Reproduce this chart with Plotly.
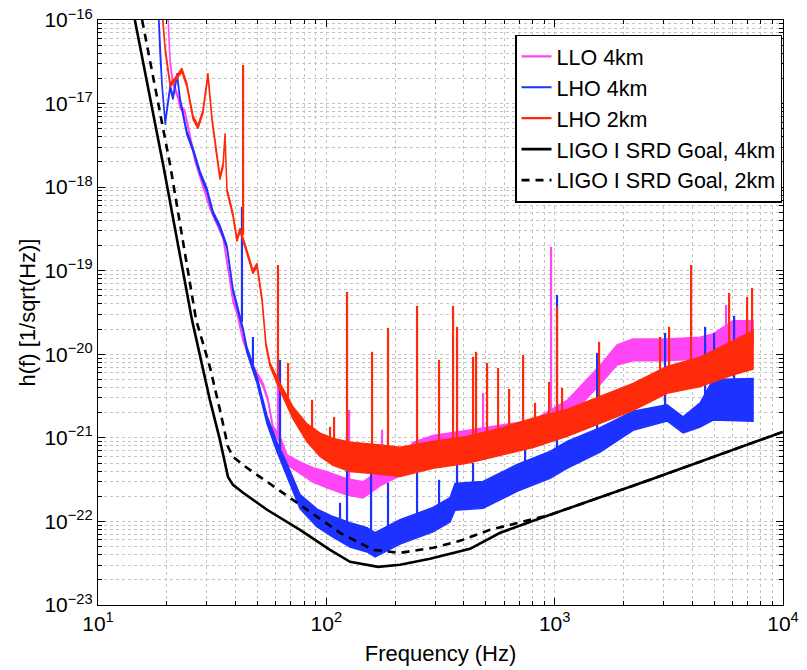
import plotly.graph_objects as go

# ---------------- data ----------------
# LLO 4km : median level of the noise band, its spread factor and the narrow lines
llo_freq = [19.9, 20.3, 20.7, 21.3, 22.4, 22.9, 24.0, 26.6, 30.9, 35.3,
            39.0, 40.6, 43.2, 47.7, 52.8, 55.5, 58.4, 62.7, 67.3, 76.7,
            87.4, 100.7, 123.2, 144.8, 171.9, 210.3, 239.8, 293.4, 413, 577,
            804, 1133, 1581, 1876, 2205, 3107, 4335, 4941, 6046, 7396]
llo_h = [1.73e-16, 1.0e-16, 3.06e-17, 1.76e-17, 1.20e-17, 9.10e-18, 7.94e-18, 2.11e-18, 5.80e-19, 2.54e-19,
         4.47e-20, 3.21e-20, 1.49e-20, 7.07e-21, 4.31e-21, 2.85e-21, 1.32e-21, 9.46e-22, 5.46e-22, 4.38e-22,
         3.61e-22, 3.15e-22, 2.59e-22, 2.39e-22, 3.32e-22, 4.38e-22, 6.80e-22, 8.25e-22, 9.46e-22, 1.09e-21,
         1.25e-21, 2.16e-21, 5.67e-21, 9.84e-21, 1.13e-20, 1.13e-20, 1.19e-20, 1.30e-20, 1.80e-20, 1.80e-20]
llo_spread = [1.05] * 17 + [1.1, 1.15, 1.18, 1.22, 1.25, 1.25, 1.25, 1.25, 1.25, 1.3,
                            1.3, 1.3, 1.3, 1.3, 1.3, 1.3, 1.32, 1.35, 1.35, 1.35,
                            1.35, 1.4, 1.4]
llo_line_freq = [61.4, 125.8, 175.4, 485.8, 964.2, 5633]
llo_line_base = [1.03e-21, 2.59e-22, 3.41e-22, 1.0e-21, 1.64e-21, 1.57e-20]
llo_line_peak = [8.57e-21, 2.16e-21, 1.25e-21, 3.45e-21, 1.93e-19, 3.90e-20]

# LHO 4km
lho4_freq = [18.3, 18.7, 19.1, 19.7, 20.7, 21.3, 22.2, 22.9, 24.5, 26.1,
             28.0, 30.0, 31.9, 34.2, 36.7, 39.0, 41.0, 43.2, 44.9, 49.7,
             55.0, 60.8, 67.3, 76.7, 91.1, 107, 127, 150.8, 163.5, 210.3,
             293.4, 348.3, 366.2, 485.8, 684.6, 954.5, 1133, 1581, 2205, 3107,
             3651, 4335, 4941, 7396]
lho4_h = [1.73e-16, 4.03e-17, 1.58e-17, 5.86e-18, 1.58e-17, 1.17e-17, 2.20e-17, 1.10e-17, 4.45e-18, 2.79e-18,
          1.48e-18, 9.26e-19, 4.91e-19, 3.34e-19, 1.93e-19, 5.89e-20, 3.40e-20, 1.96e-20, 1.13e-20, 4.94e-21,
          1.64e-21, 7.80e-22, 4.14e-22, 1.72e-22, 1.10e-22, 8.61e-23, 6.92e-23, 6.03e-23, 5.25e-23, 7.51e-23,
          1.05e-22, 1.38e-22, 1.97e-22, 2.08e-22, 3.32e-22, 4.75e-22, 6.26e-22, 9.46e-22, 1.60e-21, 1.99e-21,
          1.43e-21, 1.88e-21, 2.85e-21, 2.85e-21]
lho4_spread = [1.05] * 18 + [1.08, 1.1, 1.12, 1.14, 1.18, 1.22, 1.28, 1.33, 1.4, 1.4,
                             1.4, 1.4, 1.4, 1.4, 1.45, 1.45, 1.45, 1.45, 1.45, 1.4,
                             1.3, 1.25, 1.25, 1.4, 1.75, 1.8]
lho4_line_freq = [42.7, 47.7, 62.7, 114.8, 123.2, 157.0, 186.3, 249.6, 311.6, 373.6,
                  439.1, 742.1, 1024, 1534, 3045, 4559, 4991, 6108]
lho4_line_base = [2.44e-20, 6.51e-21, 6.80e-22, 7.93e-23, 7.31e-23, 5.55e-23, 6.37e-23, 9.10e-23, 1.14e-22, 1.97e-22,
                  2.02e-22, 3.61e-22, 5.46e-22, 8.95e-22, 1.94e-21, 2.16e-21, 2.85e-21, 2.85e-21]
lho4_line_peak = [5.80e-19, 1.61e-20, 8.57e-21, 1.67e-22, 1.15e-21, 4.14e-22, 2.90e-22, 3.81e-22, 3.15e-22, 5.93e-22,
                  5.02e-22, 8.71e-22, 5.13e-20, 1.04e-20, 1.80e-20, 2.13e-20, 1.80e-20, 2.88e-20]

# LHO 2km
lho2_freq = [18.9, 19.7, 20.7, 21.7, 23.3, 24.5, 26.1, 27.4, 28.8, 30.3,
             31.6, 32.9, 34.2, 35.3, 36.0, 36.7, 39.0, 40.6, 41.9, 44.9,
             47.7, 49.7, 52.3, 54.4, 56.7, 62.7, 71.5, 82.3, 93.9, 107,
             127, 177.2, 210.3, 293.4, 413.3, 576.8, 804.3, 1133, 1581, 2205,
             3107, 4335, 6046, 7396]
lho2_h = [1.73e-16, 4.38e-17, 1.67e-17, 1.92e-17, 2.52e-17, 1.67e-17, 6.73e-18, 5.25e-18, 7.94e-18, 2.20e-17,
          6.37e-18, 2.79e-18, 1.29e-18, 1.84e-18, 4.21e-18, 9.26e-19, 4.65e-19, 2.34e-19, 3.08e-19, 1.68e-19,
          9.67e-20, 1.17e-19, 4.47e-20, 1.30e-20, 7.47e-21, 4.07e-21, 1.99e-21, 1.15e-21, 8.25e-22, 6.80e-22,
          5.93e-22, 5.46e-22, 5.16e-22, 6.26e-22, 7.18e-22, 8.95e-22, 1.15e-21, 1.51e-21, 2.16e-21, 3.09e-21,
          4.94e-21, 6.16e-21, 9.06e-21, 1.13e-20]
lho2_spread = [1.05] * 25 + [1.1, 1.18, 1.28, 1.38, 1.45, 1.5, 1.5, 1.5, 1.45, 1.45,
                             1.45, 1.5, 1.45, 1.45, 1.45, 1.45, 1.5, 1.6, 1.7]
lho2_line_freq = [43.2, 61.4, 68.0, 86.6, 103.8, 108.1, 123.2, 158.6, 186.3, 249.6,
                  311.6, 358.9, 373.6, 439.1, 452.6, 505.8, 565.1, 631.5, 727.3, 820.6,
                  945.1, 1024, 1078, 1565, 2895, 3170, 3958, 5806, 6962, 7322]
lho2_line_base = [2.68e-19, 4.31e-21, 2.48e-21, 1.03e-21, 7.18e-22, 6.80e-22, 6.09e-22, 5.61e-22, 5.46e-22, 5.46e-22,
                  6.26e-22, 6.80e-22, 6.80e-22, 7.59e-22, 7.59e-22, 8.02e-22, 8.71e-22, 9.46e-22, 1.09e-21, 1.25e-21,
                  1.35e-21, 1.43e-21, 1.47e-21, 1.88e-21, 4.31e-21, 4.94e-21, 5.67e-21, 8.57e-21, 1.07e-20, 1.13e-20]
lho2_line_peak = [2.90e-17, 1.17e-19, 7.89e-21, 2.85e-21, 1.35e-21, 1.78e-21, 5.57e-20, 1.07e-20, 2.07e-20, 3.79e-20,
                  8.57e-21, 3.79e-20, 2.13e-20, 9.31e-21, 1.07e-20, 7.89e-21, 6.88e-21, 3.86e-21, 9.84e-21, 2.62e-21,
                  4.68e-21, 3.69e-20, 3.96e-21, 1.41e-20, 1.61e-20, 2.13e-20, 1.17e-19, 5.42e-20, 4.86e-20, 6.22e-20]

# LIGO I SRD goal curves
goal4_freq = [14.5, 19.3, 25.8, 30.9, 34.2, 37.1, 39.0, 43.2, 55.0, 76.7,
              103.8, 127, 168.5, 210.3, 284.6, 426, 577, 955, 2617, 10000]
goal4_h = [1e-16, 1.84e-18, 2.58e-20, 2.85e-21, 9.46e-22, 3.41e-22, 2.74e-22, 2.20e-22, 1.38e-22, 7.93e-23,
           4.57e-23, 3.29e-23, 2.86e-23, 3.03e-23, 3.57e-23, 4.70e-23, 7.31e-23, 1.20e-22, 3.15e-22, 1.18e-21]
goal2_freq = [15.6, 20.7, 26.9, 30.9, 34.2, 37.1, 39.0, 44.9, 55.0, 71.5,
              91.1, 114.8, 160.2, 210.3, 293.4, 385.1, 521, 955, 2617, 10000]
goal2_h = [1e-16, 1.84e-18, 2.58e-20, 7.07e-21, 2.16e-21, 7.80e-22, 5.93e-22, 4.38e-22, 2.98e-22, 1.81e-22,
           1.14e-22, 7.31e-23, 4.57e-23, 4.21e-23, 4.83e-23, 5.86e-23, 7.93e-23, 1.20e-22, 3.15e-22, 1.18e-21]

x_tickvals = [10, 100, 1000, 10000]
x_ticktext = ["10<sup>1</sup>", "10<sup>2</sup>", "10<sup>3</sup>", "10<sup>4</sup>"]
y_tickvals = [1e-23, 1e-22, 1e-21, 1e-20, 1e-19, 1e-18, 1e-17, 1e-16]
y_ticktext = ["10<sup>\u221223</sup>", "10<sup>\u221222</sup>", "10<sup>\u221221</sup>", "10<sup>\u221220</sup>",
              "10<sup>\u221219</sup>", "10<sup>\u221218</sup>", "10<sup>\u221217</sup>", "10<sup>\u221216</sup>"]

# ---------------- figure ----------------
FONT = "Liberation Sans, Arial, Helvetica, sans-serif"
MAG, BLU, RED = "#FF45F5", "#1E32FF", "#FF2A0A"


def band(freq, h, spread):
    upper = [v * s for v, s in zip(h, spread)]
    lower = [v / s for v, s in zip(h, spread)]
    return list(freq) + list(freq[::-1]), upper + lower[::-1]


def lines(freq, base, peak):
    xs, ys = [], []
    for f, b, p in zip(freq, base, peak):
        xs += [f, f, None]
        ys += [b, p, None]
    return xs, ys


fig = go.Figure()
series = [
    ("LLO 4km", MAG, llo_freq, llo_h, llo_spread, llo_line_freq, llo_line_base, llo_line_peak),
    ("LHO 4km", BLU, lho4_freq, lho4_h, lho4_spread, lho4_line_freq, lho4_line_base, lho4_line_peak),
    ("LHO 2km", RED, lho2_freq, lho2_h, lho2_spread, lho2_line_freq, lho2_line_base, lho2_line_peak),
]
for name, col, f, h, s, lf, lb, lp in series:
    bx, by = band(f, h, s)
    fig.add_trace(go.Scatter(x=bx, y=by, mode="lines", fill="toself", fillcolor=col,
                             line=dict(color=col, width=1.4), showlegend=False,
                             legendgroup=name, hoverinfo="skip"))
    sx, sy = lines(lf, lb, lp)
    fig.add_trace(go.Scatter(x=sx, y=sy, mode="lines", name=name, legendgroup=name,
                             line=dict(color=col, width=2.2)))

fig.add_trace(go.Scatter(x=goal4_freq, y=goal4_h, mode="lines", name="LIGO I SRD Goal, 4km",
                         line=dict(color="black", width=2.6)))
fig.add_trace(go.Scatter(x=goal2_freq, y=goal2_h, mode="lines", name="LIGO I SRD Goal, 2km",
                         line=dict(color="black", width=2.6, dash="8px,6px")))

grid = "#c4c4c4"
common = dict(type="log", showline=True, linecolor="black", linewidth=1.2, mirror="allticks",
              ticks="inside", ticklen=7, tickcolor="black", tickwidth=1, automargin=False,
              showgrid=True, gridcolor=grid, griddash="dot", gridwidth=1,
              tickfont=dict(size=21, color="black", family=FONT), zeroline=False,
              minor=dict(dtick="D1", ticks="inside", ticklen=4, tickcolor="black",
                         showgrid=True, gridcolor=grid, griddash="dot", gridwidth=1))

fig.update_xaxes(range=[1, 4], tickvals=x_tickvals, ticktext=x_ticktext, **common,
                 title=dict(text="Frequency (Hz)", font=dict(size=22, color="black", family=FONT), standoff=11))
fig.update_yaxes(range=[-23, -16], tickvals=y_tickvals, ticktext=y_ticktext, **common,
                 title=dict(text="h(f) [1/sqrt(Hz)]", font=dict(size=22, color="black", family=FONT), standoff=2))

fig.update_layout(
    width=807, height=670,
    margin=dict(l=98, r=24, t=20, b=65),
    paper_bgcolor="white", plot_bgcolor="white",
    font=dict(family=FONT, color="black"),
    legend=dict(x=0.999, y=0.975, xanchor="right", yanchor="top",
                bgcolor="white", bordercolor="black", borderwidth=1.2,
                font=dict(size=21.5, color="black", family=FONT),
                tracegroupgap=0, itemwidth=30),
)

fig.write_html("out.html")
